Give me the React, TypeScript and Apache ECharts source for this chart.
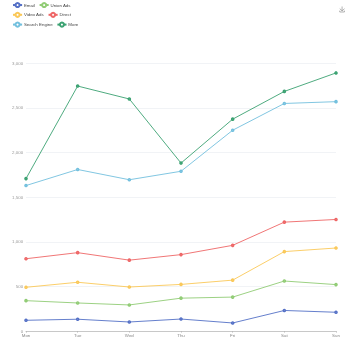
import React, { useEffect, useRef } from "react";
import * as echarts from "echarts";

const days = ["Mon", "Tue", "Wed", "Thu", "Fri", "Sat", "Sun"];
const email = [120, 132, 101, 134, 90, 230, 210];
const unionAds = [220, 182, 191, 234, 290, 330, 310];
const videoAds = [150, 232, 201, 154, 190, 330, 410];
const direct = [320, 332, 301, 334, 390, 330, 320];
const searchEngine = [820, 932, 901, 934, 1290, 1330, 1320];
const more = [78, 935, 905, 92, 124, 135, 322];

const seriesNames = ["Email", "Union Ads", "Video Ads", "Direct", "Search Engine", "More"];
const seriesData = [email, unionAds, videoAds, direct, searchEngine, more];

export default function App() {
  const ref = useRef<HTMLDivElement>(null);
  useEffect(() => {
    if (!ref.current) return;
    const chart = echarts.init(ref.current, undefined, { renderer: "svg" });
    chart.setOption({
      animation: false,
      color: ["#5470c6", "#91cc75", "#fac858", "#ee6666", "#73c0de", "#3ba272"],
      legend: {
        data: seriesNames,
        left: 10,
        top: 0,
        width: 76,
        padding: 2,
        itemWidth: 9.1,
        itemHeight: 5.1,
        itemGap: 3.7,
        textStyle: { fontSize: 4.4, color: "#444", padding: [0, 0, 0, -3.2] },
      },
      toolbox: {
        right: 1,
        top: 2,
        padding: 2,
        itemSize: 5.5,
        feature: { saveAsImage: {} },
        iconStyle: { borderColor: "#666", borderWidth: 0.5 },
      },
      grid: { left: 26, right: 14, top: 63.3, bottom: 19, containLabel: false },
      xAxis: {
        type: "category",
        boundaryGap: false,
        data: days,
        axisLine: { lineStyle: { color: "#c8c8c8", width: 1.2 } },
        axisTick: { length: 1.8, lineStyle: { color: "#aaa", width: 0.5 } },
        axisLabel: { fontSize: 4.4, color: "#888", margin: 2.9 },
      },
      yAxis: {
        type: "value",
        min: 0,
        max: 3000,
        interval: 500,
        axisLabel: { fontSize: 4.4, color: "#999", margin: 2.9 },
        splitLine: { lineStyle: { color: "#eef0f4", width: 0.8 } },
      },
      series: seriesNames.map((name, i) => ({
        name,
        type: "line",
        stack: "Total",
        data: seriesData[i],
        symbol: "emptyCircle",
        symbolSize: 1.6,
        itemStyle: { borderWidth: 0.7 },
        lineStyle: { width: 0.9 },
      })),
    });
    return () => chart.dispose();
  }, []);
  return (
    <div
      ref={ref}
      style={{ position: "fixed", left: 0, top: 0, width: 350, height: 350 }}
    />
  );
}
